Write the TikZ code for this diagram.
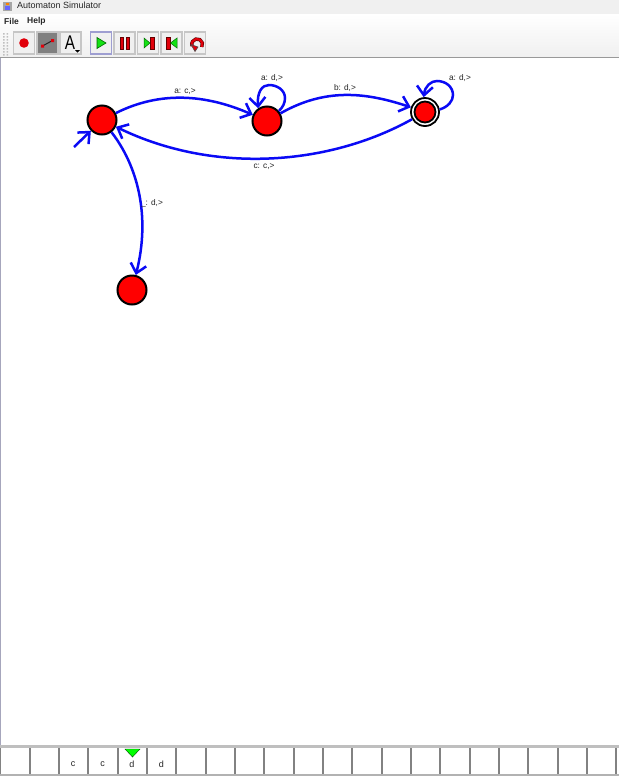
\documentclass[tikz,border=0pt]{standalone}
\usepackage{fontspec}
\setmainfont{Liberation Sans}
\usetikzlibrary{arrows.meta}
\definecolor{edgeblue}{RGB}{10,10,245}
\definecolor{barbg}{RGB}{240,240,240}
\definecolor{btnedge}{RGB}{198,198,198}
\definecolor{tapeline}{RGB}{130,130,130}
\definecolor{labelgrey}{RGB}{35,35,35}
\definecolor{iconred}{RGB}{225,0,10}
\definecolor{icongreen}{RGB}{20,225,20}
\tikzset{
  x=1pt,y=-1pt,
  state/.style={circle,draw=black,line width=2pt,fill=red,minimum size=29pt,inner sep=0pt},
  edge/.style={draw=edgeblue,line width=2.5pt,-{Straight Barb[length=9pt,width=16pt]}},
  tlabel/.style={font=\fontsize{8.3}{9}\selectfont,text=labelgrey,inner sep=0pt},
  ui/.style={font=\fontsize{9}{10}\selectfont,text=black!85,inner sep=0pt,anchor=west},
  btn/.style={draw=btnedge,line width=1.2pt,fill=barbg,minimum width=21pt,minimum height=22pt,inner sep=0pt},
  tapeglyph/.style={font=\fontsize{9}{10}\selectfont,text=labelgrey,inner sep=0pt}
}
\begin{document}
\begin{tikzpicture}
\useasboundingbox (0,0) rectangle (619,780);
\fill[white] (0,0) rectangle (619,780);
% window chrome
\fill[barbg] (0,0) rectangle (619,14);
\shade[top color=white,bottom color=barbg] (0,14) rectangle (619,57);
\draw[black!40,line width=1pt] (0,57.5) -- (619,57.5);
\draw[blue!25!black!35,line width=1pt] (.5,58) -- (.5,745);
\node[ui] (title) at (17,5.5) {Automaton Simulator};
\fill[black!35] (3,2) rectangle (12,11);
\fill[blue!60!white] (5,6) rectangle (10,10);
\fill[orange] (6,2.5) rectangle (9,5);
\node[ui,font=\fontsize{8.5}{10}\selectfont\bfseries] (file) at (4,21.5) {File};
\node[ui,font=\fontsize{8.5}{10}\selectfont\bfseries] (help) at (27,21.5) {Help};
% toolbar
\foreach \gy in {33,36,...,54}{
  \fill[black!25] (3,\gy) rectangle (4.5,\gy+1.5) (6.5,\gy) rectangle (8,\gy+1.5);
}
\node[btn] (bstate) at (24,43) {};
\fill[iconred] (bstate) circle (4.8);
\node[btn,fill=black!50] (btrans) at (47.5,43) {};
\draw[black!85,line width=1pt] (42.5,46) -- (52.5,40.5);
\fill[iconred] (41,44.5) rectangle (44,47.5) (51,39) rectangle (54,42);
\node[btn] (btext) at (70.5,43) {};
\node[inner sep=0pt,text=black] (atext) at (70,43) {\fontsize{18}{18}\selectfont\scalebox{.85}[1.1]{A}};
\fill[black] (75,50) -- (80,50) -- (77.5,52.5) -- cycle;
\node[btn,draw=blue!20!btnedge] (bplay) at (101,43) {};
\fill[icongreen,draw=black!60!green,line width=.6pt] (97,37.5) -- (106,43) -- (97,48.5) -- cycle;
\node[btn] (bpause) at (124.5,43) {};
\fill[iconred,draw=black!60!red,line width=.5pt] (120,37) rectangle (123.5,49) (126,37) rectangle (129.5,49);
\node[btn] (bstep) at (148,43) {};
\fill[icongreen,draw=black!60!green,line width=.5pt] (144,38) -- (150,43) -- (144,48) -- cycle;
\fill[iconred,draw=black!60!red,line width=.5pt] (150.5,37) rectangle (154,49);
\node[btn] (bback) at (171.5,43) {};
\fill[iconred,draw=black!60!red,line width=.5pt] (166.5,37) rectangle (170,49);
\fill[icongreen,draw=black!60!green,line width=.5pt] (177,38) -- (170.5,43) -- (177,48) -- cycle;
\node[btn] (breset) at (195,43) {};
\draw[black!70!red,line width=3.4pt] (201.8,47) arc[start angle=30,end angle=-200,radius=5.4];
\draw[iconred,line width=2.3pt] (201.8,47) arc[start angle=30,end angle=-200,radius=5.4];
\fill[iconred,draw=black!70,line width=.6pt] (191,44.5) -- (198,47) -- (195,51.5) -- cycle;
% states
\node[state] (q0) at (102,120) {};
\node[state] (q1) at (267,121) {};
\node[state,minimum size=28pt,line width=1.8pt,fill=white] (q2outer) at (425,112) {};
\node[circle,draw=black,line width=1.8pt,fill=red,minimum size=21pt,inner sep=0pt] (q2) at (425,112) {};
\node[state] (q3) at (132,290) {};
% start arrow
\coordinate (start) at (74,147);
\draw[edge] (start) -- (q0);
% edges
\draw[edge] (q0) .. controls (160,91) and (205,94) .. (q1);
\draw[edge] (q1) .. controls (325,88) and (365,92) .. (q2outer);
\draw[edge] (q2outer) .. controls (330,165) and (215,175) .. (q0);
\draw[edge] (q0) .. controls (137,165) and (151,215) .. (q3);
\draw[edge] (q1.40) .. controls (283,107) and (285,103) .. (285,98) .. controls (285,90) and (277,85) .. (269,85) .. controls (262,85) and (257,92) .. (q1.125);
\draw[edge] (q2outer.10) .. controls (448,107) and (453,101) .. (453,95) .. controls (453,87) and (446,81) .. (437,81) .. controls (431,81) and (425,86) .. (q2outer.95);
% labels
\node[tlabel] (l1) at (185,91.5) {a: c,>};
\node[tlabel] (l2) at (272,78.5) {a: d,>};
\node[tlabel] (l3) at (345,88) {b: d,>};
\node[tlabel] (l4) at (460,78) {a: d,>};
\node[tlabel] (l5) at (264,167) {c: c,>};
\node[tlabel] (l6) at (152,203) {\_: d,>};
% tape
\fill[black!25] (0,745) rectangle (619,748);
\fill[black!30] (0,773.5) rectangle (619,775.5);
\foreach \i in {0,...,21}{
  \fill[tapeline] ({.3+29.33*\i-1},748) rectangle ({.3+29.33*\i+1},773.5);
}
\node[tapeglyph] (c1) at (73,764) {c};
\node[tapeglyph] (c2) at (102.5,764) {c};
\node[tapeglyph] (c3) at (132,764) {d};
\node[tapeglyph] (c4) at (161.5,764) {d};
\fill[green,draw=black!70!green,line width=.4pt] (125,749) -- (140,749) -- (132.5,757) -- cycle;
\end{tikzpicture}
\end{document}
